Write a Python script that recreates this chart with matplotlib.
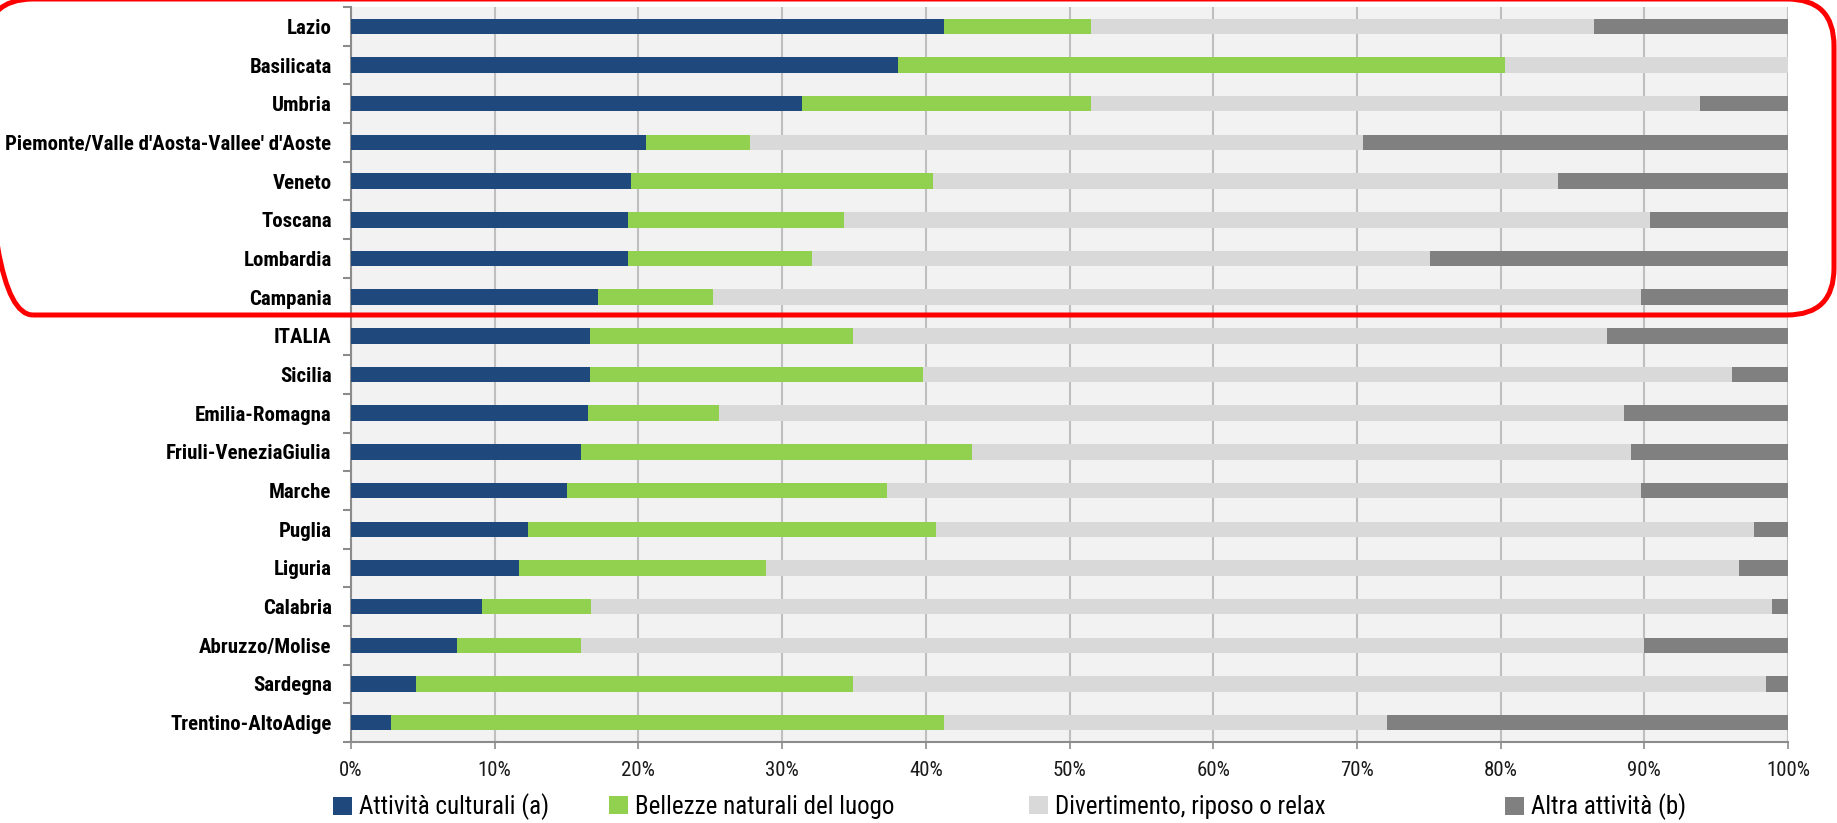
import matplotlib
matplotlib.use("Agg")
import matplotlib.pyplot as plt
from matplotlib.patches import FancyBboxPatch
from matplotlib import font_manager
import numpy as np

categories = ["Lazio", "Basilicata", "Umbria", "Piemonte/Valle d'Aosta-Vallee' d'Aoste",
              "Veneto", "Toscana", "Lombardia", "Campania", "ITALIA", "Sicilia",
              "Emilia-Romagna", "Friuli-VeneziaGiulia", "Marche", "Puglia", "Liguria",
              "Calabria", "Abruzzo/Molise", "Sardegna", "Trentino-AltoAdige"]

culturali = [41.3, 38.1, 31.4, 20.5, 19.5, 19.3, 19.3, 17.2, 16.6, 16.6,
             16.5, 16.0, 15.0, 12.3, 11.7, 9.1, 7.4, 4.5, 2.8]
bellezze = [10.2, 42.2, 20.1, 7.3, 21.0, 15.0, 12.8, 8.0, 18.3, 23.2,
            9.1, 27.2, 22.3, 28.4, 17.2, 7.6, 8.6, 30.4, 38.5]
divertimento = [35.0, 19.7, 42.4, 42.6, 43.5, 56.1, 43.0, 64.6, 52.5, 56.3,
                63.0, 45.9, 52.5, 56.9, 67.7, 82.2, 74.0, 63.6, 30.8]
altra = [13.5, 0.0, 6.1, 29.6, 16.0, 9.6, 24.9, 10.2, 12.6, 3.9,
         11.4, 10.9, 10.2, 2.4, 3.4, 1.1, 10.0, 1.5, 27.9]

series_names = ["Attività culturali (a)", "Bellezze naturali del luogo",
                "Divertimento, riposo o relax", "Altra attività (b)"]
xticks = [0, 10, 20, 30, 40, 50, 60, 70, 80, 90, 100]
xtick_labels = ["0%", "10%", "20%", "30%", "40%", "50%", "60%", "70%", "80%", "90%", "100%"]

colors = ["#1F497D", "#92D050", "#D9D9D9", "#808080"]

available = {f.name for f in font_manager.fontManager.ttflist}
fam = "Liberation Sans"
for cand in ["Liberation Sans Narrow", "Arial Narrow", "Roboto Condensed", "PT Sans Narrow"]:
    if cand in available:
        fam = cand
        break
plt.rcParams['font.family'] = [fam, 'DejaVu Sans']

W, H = 1837, 823
fig = plt.figure(figsize=(W / 100, H / 100), dpi=100)
ax = fig.add_axes([351 / W, 1 - 742 / H, (1788 - 351) / W, (742 - 7) / H])
ax.set_facecolor("#F2F2F2")

y = np.arange(len(categories))
left = np.zeros(len(categories))
containers = []
for vals, col, name in zip([culturali, bellezze, divertimento, altra], colors, series_names):
    c = ax.barh(y, vals, left=left, height=0.4, color=col, label=name, zorder=3)
    containers.append(c)
    left = left + np.array(vals)

ax.set_xlim(0, 100)
ax.set_ylim(len(categories) - 0.5, -0.5)
ax.set_xticks(xticks)
ax.set_xticklabels(xtick_labels, fontsize=15, color="#1a1a1a")
ax.set_yticks(y)
ax.set_yticklabels(categories, fontsize=15, fontweight="bold")
ax.set_yticks(np.arange(-0.5, len(categories), 1), minor=True)
ax.tick_params(axis="y", which="major", length=0, pad=14)
ax.tick_params(axis="y", which="minor", length=6, color="#8c8c8c", width=1.5)
ax.tick_params(axis="x", which="major", length=5, color="#8c8c8c", width=1.2, pad=9)
ax.grid(axis="x", color="#BFBFBF", linewidth=1.5, zorder=0)
ax.set_axisbelow(True)
for s in ["top", "right"]:
    ax.spines[s].set_visible(False)
for s in ["left", "bottom"]:
    ax.spines[s].set_color("#8c8c8c")
    ax.spines[s].set_linewidth(1.5)

legend_x = [333, 609, 1029, 1505]
for c, name, lx in zip(containers, series_names, legend_x):
    fig.legend(handles=[c], labels=[name], loc="center left",
               bbox_to_anchor=(lx / W, 1 - 807 / H), frameon=False,
               handlelength=0.75, handleheight=0.75, handletextpad=0.3,
               borderpad=0, borderaxespad=0, fontsize=18)

# red rounded highlight box (pixel-based inches)
rect = FancyBboxPatch((-14 / 100, (H - 315) / 100), (1834 + 14) / 100, 316 / 100,
                      boxstyle="round,pad=0,rounding_size=0.47",
                      transform=fig.dpi_scale_trans, fill=False,
                      edgecolor="#FF0000", linewidth=3.6, clip_on=False, zorder=10)
fig.patches.append(rect)

fig.savefig("out.png", dpi=100)
